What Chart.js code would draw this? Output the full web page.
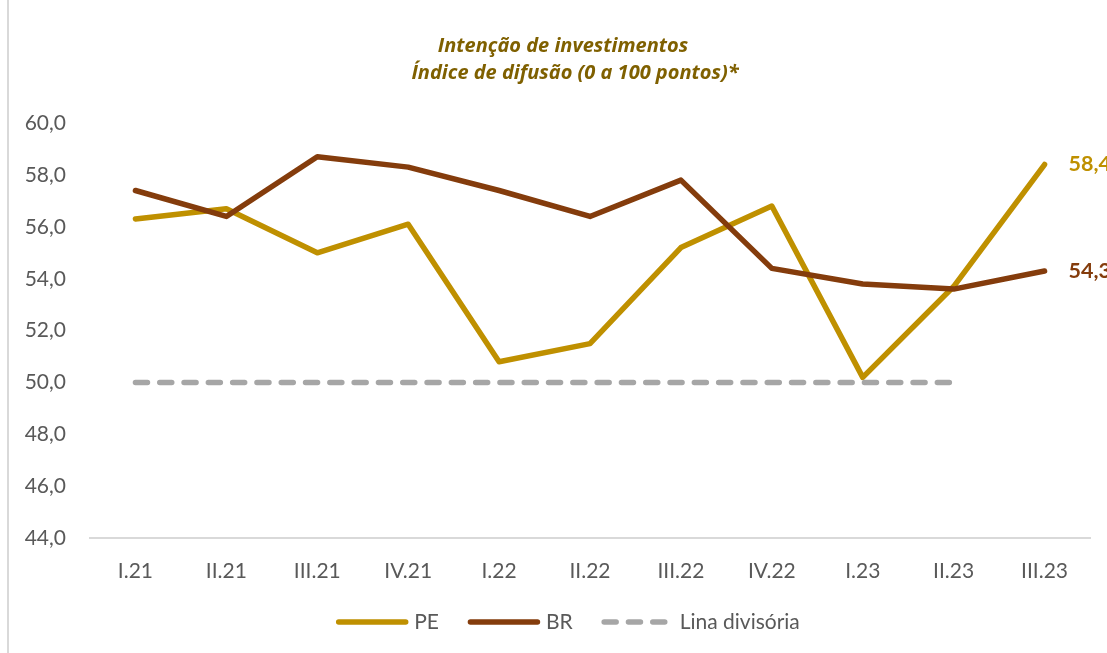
<!DOCTYPE html>
<html>
<head>
<meta charset="utf-8">
<script src="https://cdn.jsdelivr.net/npm/chart.js@4.4.1/dist/chart.umd.min.js"></script>
<style>
  html, body { margin: 0; padding: 0; background: #ffffff; }
  #wrap { position: relative; width: 1107px; height: 653px; }
</style>
</head>
<body>
<div id="wrap"><canvas id="c" width="1107" height="653"></canvas></div>
<script>
const categories = ['I.21','II.21','III.21','IV.21','I.22','II.22','III.22','IV.22','I.23','II.23','III.23'];
const pe = [56.3, 56.7, 55.0, 56.1, 50.8, 51.5, 55.2, 56.8, 50.2, 53.7, 58.4];
const br = [57.4, 56.4, 58.7, 58.3, 57.4, 56.4, 57.8, 54.4, 53.8, 53.6, 54.3];
const divisoria = [50, 50, 50, 50, 50, 50, 50, 50, 50, 50, null];
const titleLines = ['Intenção de investimentos', 'Índice de difusão (0 a 100 pontos)*'];
const seriesNames = ['PE', 'BR', 'Lina divisória'];

const fmt = v => v.toFixed(1).replace('.', ',');

const decorPlugin = {
  id: 'decor',
  beforeDraw(chart) {
    const ctx = chart.ctx;
    ctx.save();
    ctx.fillStyle = '#ffffff';
    ctx.fillRect(0, 0, chart.width, chart.height);
    ctx.strokeStyle = '#D9D9D9';
    ctx.lineWidth = 2;
    ctx.beginPath();
    ctx.moveTo(8, 0);
    ctx.lineTo(8, chart.height);
    ctx.stroke();
    ctx.fillStyle = '#7F6000';
    ctx.font = 'italic bold 20px "Open Sans"';
    ctx.textAlign = 'center';
    ctx.textBaseline = 'middle';
    ctx.fillText(titleLines[0], 563, 46);
    ctx.fillText(titleLines[1], 575, 73);
    ctx.restore();
  },
  afterDatasetsDraw(chart) {
    const ctx = chart.ctx;
    ctx.save();
    ctx.font = 'bold 21.5px Lato';
    ctx.textAlign = 'left';
    ctx.textBaseline = 'middle';
    [0, 1].forEach(i => {
      const ds = chart.data.datasets[i];
      const meta = chart.getDatasetMeta(i);
      const last = ds.data.length - 1;
      const pt = meta.data[last];
      ctx.fillStyle = ds.borderColor;
      ctx.fillText(fmt(ds.data[last]), pt.x + 24, pt.y);
    });
    ctx.restore();
  },
  afterDraw(chart) {
    const ctx = chart.ctx;
    ctx.save();
    ctx.font = '21px Lato';
    ctx.textBaseline = 'middle';
    ctx.textAlign = 'left';
    const lineLen = 72, gapText = 6, gapItem = 29, y = 622;
    const ds = chart.data.datasets;
    const widths = ds.map(d => lineLen + gapText + ctx.measureText(d.label).width);
    const total = widths.reduce((a, b) => a + b, 0) + gapItem * (ds.length - 1);
    let x = 568 - total / 2;
    ds.forEach((d, i) => {
      ctx.strokeStyle = d.borderColor;
      ctx.lineWidth = d.borderWidth;
      ctx.lineCap = 'round';
      ctx.setLineDash(d.borderDash || []);
      ctx.beginPath();
      ctx.moveTo(x + 2.5, y);
      ctx.lineTo(x + lineLen - 2.5, y);
      ctx.stroke();
      ctx.setLineDash([]);
      ctx.fillStyle = '#595959';
      ctx.fillText(d.label, x + lineLen + gapText, y);
      x += widths[i] + gapItem;
    });
    ctx.restore();
  }
};

new Chart(document.getElementById('c'), {
  type: 'line',
  data: {
    labels: categories,
    datasets: [
      { label: seriesNames[0], data: pe, borderColor: '#BF9000', backgroundColor: '#BF9000',
        borderWidth: 5.5, pointRadius: 0, tension: 0, borderCapStyle: 'round', borderJoinStyle: 'round', order: 2 },
      { label: seriesNames[1], data: br, borderColor: '#843C0C', backgroundColor: '#843C0C',
        borderWidth: 5.5, pointRadius: 0, tension: 0, borderCapStyle: 'round', borderJoinStyle: 'round', order: 1 },
      { label: seriesNames[2], data: divisoria, borderColor: '#A6A6A6', backgroundColor: '#A6A6A6',
        borderWidth: 5.5, pointRadius: 0, tension: 0, borderCapStyle: 'round', borderDash: [12, 12.3], order: 0 }
    ]
  },
  options: {
    responsive: false,
    animation: false,
    layout: { padding: { top: 123, right: 17, left: 0, bottom: 74.7 } },
    plugins: {
      title: { display: false },
      tooltip: { enabled: false },
      legend: { display: false }
    },
    scales: {
      x: {
        offset: true,
        grid: { display: false, drawTicks: false },
        border: { display: true, color: '#D9D9D9', width: 2 },
        ticks: { color: '#595959', font: { family: 'Lato', size: 21 }, padding: 20, maxRotation: 0 },
        afterFit: s => { s.height = 40; }
      },
      y: {
        min: 44, max: 60,
        grid: { display: false, drawTicks: false },
        border: { display: false },
        ticks: { stepSize: 2, color: '#595959', font: { family: 'Lato', size: 21 }, padding: 24,
                 callback: v => fmt(v) },
        afterFit: s => { s.width = 90; }
      }
    }
  },
  plugins: [decorPlugin]
});
</script>
</body>
</html>
